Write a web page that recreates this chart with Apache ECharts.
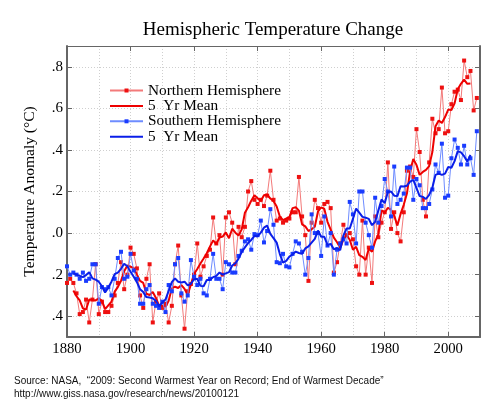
<!DOCTYPE html>
<html>
<head>
<meta charset="utf-8">
<script src="https://cdn.jsdelivr.net/npm/echarts@6/dist/echarts.min.js"></script>
<style>
html,body{margin:0;padding:0;background:#fff;}
#chart{width:504px;height:406px;}
</style>
</head>
<body>
<div id="chart"></div>
<script>
const startYear = 1880;
const meanStartYear = 1882;
const xTicks = [1880, 1900, 1920, 1940, 1960, 1980, 2000];
const xTickLabels = ['1880', '1900', '1920', '1940', '1960', '1980', '2000'];
const yTicks = [-0.4, -0.2, 0, 0.2, 0.4, 0.6, 0.8];
const yTickLabels = ['.4', '.2', '.0', '.2', '.4', '.6', '.8'];
const seriesLabels = ['Northern Hemisphere', '5  Yr Mean', 'Southern Hemisphere', '5  Yr Mean'];

// Northern Hemisphere annual anomaly, 1880-2009
const nhAnnual = [
  -0.24,-0.22,-0.24,-0.29,-0.39,-0.38,-0.32,-0.43,-0.32,-0.15,
  -0.39,-0.33,-0.38,-0.38,-0.35,-0.30,-0.24,-0.14,-0.27,-0.20,
  -0.07,-0.10,-0.17,-0.30,-0.36,-0.22,-0.15,-0.43,-0.33,-0.29,
  -0.36,-0.34,-0.43,-0.35,-0.15,-0.06,-0.30,-0.46,-0.28,-0.245,
  -0.20,-0.05,-0.21,-0.16,-0.11,-0.08,0.075,-0.05,-0.01,-0.20,
  0.075,0.10,0.05,-0.15,0.03,-0.02,0.03,0.20,0.25,0.16,
  0.14,0.16,0.13,0.18,0.30,0.16,0.06,0.07,0.05,0.06,
  0.07,0.10,0.10,0.27,0.08,-0.01,-0.23,0.05,0.16,0.12,
  0.05,0.14,0.15,0.12,-0.19,-0.14,-0.05,0.04,-0.01,0.00,
  -0.03,-0.16,-0.20,0.06,-0.20,-0.07,-0.24,0.08,-0.02,0.05,
  0.10,0.34,0.02,0.10,0.00,-0.04,0.10,0.30,0.32,0.27,
  0.50,0.39,0.16,0.08,0.34,0.55,0.48,0.50,0.70,0.48,
  0.49,0.62,0.68,0.69,0.64,0.83,0.75,0.78,0.59,0.65
];
// Southern Hemisphere annual anomaly, 1880-2009
const shAnnual = [
  -0.16,-0.20,-0.19,-0.20,-0.22,-0.19,-0.23,-0.22,-0.15,-0.15,
  -0.34,-0.26,-0.27,-0.26,-0.30,-0.22,-0.12,-0.09,-0.22,-0.21,
  -0.10,-0.18,-0.22,-0.34,-0.34,-0.27,-0.25,-0.34,-0.35,-0.36,
  -0.33,-0.38,-0.25,-0.28,-0.15,-0.12,-0.29,-0.33,-0.30,-0.13,
  -0.21,-0.25,-0.22,-0.29,-0.30,-0.22,-0.10,-0.22,-0.22,-0.27,
  -0.14,-0.15,-0.19,-0.19,-0.11,-0.085,-0.04,-0.03,-0.08,-0.005,
  -0.01,0.06,-0.045,0.01,0.115,0.04,-0.14,-0.145,-0.10,-0.16,
  -0.165,-0.10,-0.04,-0.05,-0.09,-0.20,-0.12,0.09,0.00,0.00,
  -0.11,0.08,-0.06,0.00,-0.20,-0.08,-0.05,-0.03,-0.05,0.15,
  0.09,-0.05,0.20,0.20,0.05,-0.01,-0.07,0.17,0.05,0.13,
  0.26,0.20,0.08,0.32,0.14,0.16,0.19,0.315,0.315,0.16,
  0.26,0.23,0.12,0.12,0.14,0.21,0.33,0.29,0.43,0.17,
  0.18,0.36,0.45,0.41,0.33,0.42,0.33,0.36,0.28,0.49
];
// 5-year means, 1882-2007
const nhMean5 = [
  -0.276,-0.304,-0.324,-0.362,-0.368,-0.32,-0.322,-0.324,
  -0.314,-0.326,-0.366,-0.348,-0.33,-0.282,-0.26,-0.23,-0.184,-0.156,
  -0.162,-0.168,-0.20,-0.23,-0.24,-0.292,-0.298,-0.284,-0.312,-0.35,
  -0.35,-0.354,-0.326,-0.266,-0.258,-0.264,-0.25,-0.269,-0.297,-0.247,
  -0.197,-0.173,-0.146,-0.122,-0.097,-0.065,-0.035,-0.053,-0.022,-0.017,
  0.003,-0.025,0.021,0.002,-0.012,0.018,0.098,0.124,0.156,0.182,
  0.168,0.154,0.182,0.186,0.166,0.154,0.128,0.08,0.062,0.07,
  0.076,0.12,0.124,0.108,0.042,0.032,0.01,0.018,0.03,0.104,
  0.124,0.116,0.054,0.016,-0.022,-0.044,-0.07,-0.032,-0.01,-0.032,
  -0.08,-0.066,-0.106,-0.114,-0.13,-0.074,-0.09,-0.04,-0.006,0.11,
  0.098,0.122,0.112,0.084,0.036,0.092,0.136,0.19,0.298,0.356,
  0.328,0.28,0.294,0.304,0.322,0.39,0.514,0.542,0.53,0.558,
  0.594,0.592,0.624,0.692,0.718,0.738,0.718,0.72
];
const shMean5 = [
  -0.194,-0.20,-0.206,-0.212,-0.202,-0.188,-0.218,-0.224,
  -0.234,-0.256,-0.286,-0.262,-0.234,-0.198,-0.19,-0.172,-0.148,-0.16,
  -0.186,-0.21,-0.236,-0.27,-0.284,-0.308,-0.31,-0.314,-0.326,-0.352,
  -0.334,-0.32,-0.278,-0.236,-0.218,-0.234,-0.238,-0.234,-0.252,-0.244,
  -0.222,-0.22,-0.254,-0.256,-0.226,-0.226,-0.212,-0.206,-0.19,-0.20,
  -0.194,-0.188,-0.156,-0.145,-0.123,-0.091,-0.069,-0.048,-0.033,-0.013,
  -0.016,0.002,0.026,0.036,-0.004,-0.024,-0.046,-0.101,-0.142,-0.134,
  -0.113,-0.103,-0.089,-0.096,-0.10,-0.074,-0.064,-0.046,-0.028,0.012,
  -0.018,-0.018,-0.058,-0.052,-0.078,-0.072,-0.082,-0.012,0.022,0.022,
  0.068,0.118,0.098,0.078,0.074,0.068,0.038,0.054,0.108,0.162,
  0.144,0.198,0.20,0.18,0.178,0.225,0.224,0.228,0.248,0.256,
  0.217,0.178,0.174,0.164,0.184,0.218,0.28,0.286,0.28,0.286,
  0.318,0.314,0.346,0.394,0.388,0.37,0.344,0.376
];

function pairs(arr, y0) { return arr.map((v, i) => [y0 + i, v]); }
function xLabel(v) { const i = xTicks.indexOf(v); return i >= 0 ? xTickLabels[i] : ''; }
function yLabel(v) {
  for (let i = 0; i < yTicks.length; i++) if (Math.abs(yTicks[i] - v) < 1e-6) return yTickLabels[i];
  return '';
}

const serif = 'Liberation Serif';
const axisCol = '#666666';
const W = 504, H = 406;
const gL = 67, gR = 24, gT = 46, gB = 69;
const plotH = H - gT - gB;
const yMin = -0.5, yMax = 0.9;
const inset = plotH * (0.1 / (yMax - yMin));
const barIcon = 'path://M0,0L33,0L33,2L0,2Z';

const chart = echarts.init(document.getElementById('chart'), null, {renderer: 'canvas'});
chart.setOption({
  animation: false,
  backgroundColor: '#ffffff',
  title: {
    text: 'Hemispheric Temperature Change',
    left: 273, top: 21, textAlign: 'center', padding: 0,
    textStyle: {fontFamily: serif, fontSize: 19, fontWeight: 'normal', color: '#000'}
  },
  grid: [
    {left: gL, right: gR, top: gT, bottom: gB},
    {left: gL, right: gR, top: gT + inset, bottom: gB + inset}
  ],
  legend: {
    left: 104, top: 78, orient: 'vertical',
    itemWidth: 33, itemHeight: 5, itemGap: 0.4,
    data: [{name: 'NH'}, {name: 'NH5', icon: barIcon}, {name: 'SH'}, {name: 'SH5', icon: barIcon}],
    formatter: function (n) { return seriesLabels[['NH', 'NH5', 'SH', 'SH5'].indexOf(n)]; },
    textStyle: {fontFamily: serif, fontSize: 15.3, color: '#000', lineHeight: 15, padding: [0, 0, 0, 0]}
  },
  xAxis: [
    {gridIndex: 0, type: 'value', position: 'bottom', min: 1880, max: 2010, interval: 20,
     axisLine: {onZero: false, lineStyle: {color: axisCol, width: 2}},
     axisTick: {inside: true, length: 5, lineStyle: {color: axisCol, width: 1}},
     axisLabel: {formatter: xLabel, showMaxLabel: false, margin: 5, fontFamily: serif, fontSize: 14.7, color: '#000'},
     splitLine: {show: false}},
    {gridIndex: 0, type: 'value', position: 'top', min: 1880, max: 2010, interval: 20,
     axisLine: {onZero: false, lineStyle: {color: axisCol, width: 1}},
     axisTick: {inside: true, length: 5, lineStyle: {color: axisCol, width: 1}},
     axisLabel: {show: false}, splitLine: {show: false}},
    {gridIndex: 0, type: 'value', position: 'bottom', min: 1880, max: 2010, interval: 10,
     axisLine: {show: false, onZero: false}, axisTick: {show: false}, axisLabel: {show: false},
     splitLine: {show: true, lineStyle: {color: '#cfcfcf', width: 1, type: [1, 2]}}},
    {gridIndex: 1, type: 'value', min: 1880, max: 2010, show: false, axisLine: {onZero: false}}
  ],
  yAxis: [
    {gridIndex: 0, type: 'value', position: 'left', min: yMin, max: yMax,
     axisLine: {show: true, onZero: false, lineStyle: {color: axisCol, width: 2}},
     axisTick: {show: false}, axisLabel: {show: false}, splitLine: {show: false},
     name: 'Temperature Anomaly (°C)', nameLocation: 'middle', nameGap: 29,
     nameTextStyle: {fontFamily: serif, fontSize: 15.5, color: '#000'}},
    {gridIndex: 0, type: 'value', position: 'right', min: yMin, max: yMax,
     axisLine: {show: true, onZero: false, lineStyle: {color: axisCol, width: 2}},
     axisTick: {show: false}, axisLabel: {show: false}, splitLine: {show: false}},
    {gridIndex: 1, type: 'value', position: 'left', min: -0.4, max: 0.8, interval: 0.2,
     axisLine: {show: false, onZero: false},
     axisTick: {show: true, inside: true, length: 5, lineStyle: {color: axisCol, width: 1}},
     axisLabel: {formatter: yLabel, margin: 4, fontFamily: serif, fontSize: 15, color: '#000'},
     splitLine: {show: true, lineStyle: {color: '#cfcfcf', width: 1, type: [1, 2]}}},
    {gridIndex: 1, type: 'value', position: 'right', min: -0.4, max: 0.8, interval: 0.2,
     axisLine: {show: false, onZero: false},
     axisTick: {show: true, inside: true, length: 5, lineStyle: {color: axisCol, width: 1}},
     axisLabel: {show: false}, splitLine: {show: false}}
  ],
  series: [
    {name: 'NH', type: 'line', xAxisIndex: 0, yAxisIndex: 0, data: pairs(nhAnnual, startYear),
     symbol: 'rect', symbolSize: 4, showSymbol: true,
     lineStyle: {color: '#f37a7a', width: 1}, itemStyle: {color: '#ee1111'}, z: 2},
    {name: 'NH5', type: 'line', xAxisIndex: 0, yAxisIndex: 0, data: pairs(nhMean5, meanStartYear),
     symbol: 'none', lineStyle: {color: '#ee0000', width: 2}, itemStyle: {color: '#ee0000'}, z: 3},
    {name: 'SH', type: 'line', xAxisIndex: 0, yAxisIndex: 0, data: pairs(shAnnual, startYear),
     symbol: 'rect', symbolSize: 4, showSymbol: true,
     lineStyle: {color: '#6e8cff', width: 1}, itemStyle: {color: '#1a3cff'}, z: 4},
    {name: 'SH5', type: 'line', xAxisIndex: 0, yAxisIndex: 0, data: pairs(shMean5, meanStartYear),
     symbol: 'none', lineStyle: {color: '#0a1ee8', width: 2}, itemStyle: {color: '#0a1ee8'}, z: 5}
  ],
  graphic: [
    {type: 'text', left: 14, top: 376, style: {text: 'Source: NASA,  \u201c2009: Second Warmest Year on Record; End of Warmest Decade\u201d', font: '10px "Liberation Sans"', fill: '#111'}},
    {type: 'text', left: 14, top: 389, style: {text: 'http://www.giss.nasa.gov/research/news/20100121', font: '10px "Liberation Sans"', fill: '#111'}}
  ]
});
</script>
</body>
</html>
